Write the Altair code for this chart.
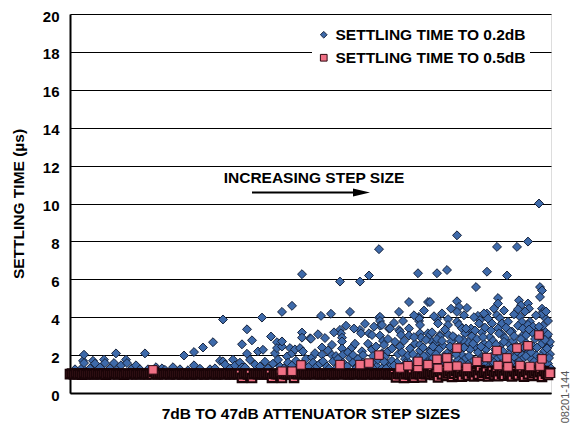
import altair as alt
import pandas as pd

S02 = "SETTLING TIME TO 0.2dB"
S05 = "SETTLING TIME TO 0.5dB"

# 0.5dB settling time, the dense band (one value every 2 steps)
BAND_1 = [1.00, 1.02, 0.98, 1.03, 0.99, 1.01, 0.97, 1.04, 1.00, 0.98,
          1.02, 1.00, 0.99, 1.03, 0.98, 1.01, 1.00, 1.04, 0.97, 1.02,
          1.00, 0.99, 1.03, 1.01, 0.98, 1.02, 1.00, 0.97, 1.03, 0.99,
          1.01, 1.00, 1.04, 0.98, 1.02, 0.99, 1.01, 1.03, 0.98, 1.00,
          1.02, 0.99, 1.12, 1.01, 0.98, 1.03, 1.00, 0.99, 1.02, 1.01,
          0.98, 1.03, 1.00, 0.99, 1.01, 1.02, 0.98, 1.00, 1.03, 0.99]
BAND_2 = [1.01, 0.98, 1.02, 1.00, 0.99, 1.03, 1.01, 0.98, 1.00, 1.02,
          0.99, 1.01, 1.03, 0.98, 1.00, 1.02, 0.99, 1.01, 1.00, 1.03,
          0.98, 1.01, 1.00, 1.02, 0.99, 1.01, 0.80, 1.00, 1.03, 0.98,
          1.01, 0.79, 1.00, 1.02, 0.99, 1.01, 1.00, 0.98, 1.03, 0.99,
          1.01, 0.80, 1.02, 1.00, 0.99, 1.03, 0.79, 1.01, 1.00, 0.98,
          1.02, 1.00, 0.80, 1.01, 0.99, 1.02, 1.00, 1.03, 0.98, 1.01]
BAND_3 = [1.00, 1.02, 0.99, 1.01, 1.03, 0.98, 1.00, 1.02, 0.99, 1.01,
          1.00, 1.04, 0.98, 1.01, 1.00, 1.02, 0.99, 1.03, 1.01, 0.98,
          1.00, 1.02, 0.99, 1.01, 1.00, 1.03, 0.98, 1.02, 1.00, 0.99,
          1.01, 1.03, 0.98, 1.00, 1.02, 0.99, 1.01, 1.00, 1.03, 0.98,
          1.02, 1.00, 0.99, 0.82, 1.01, 0.99, 1.02, 0.80, 1.00, 1.01,
          0.98, 1.03, 0.81, 1.00, 1.02, 0.99, 0.82, 1.01, 1.00, 1.03]
BAND_4 = [1.00, 1.10, 0.95, 1.05, 0.82, 1.12, 0.98, 1.20, 0.90, 1.04,
          1.15, 0.85, 1.02, 1.18, 0.93, 1.08, 0.86, 1.14, 1.00, 0.92,
          1.16, 1.03, 0.88, 1.10, 0.97, 1.21, 0.90, 1.06, 1.13, 0.87,
          1.01, 1.17, 0.94, 1.09, 0.89, 1.15, 1.02, 0.91, 1.19, 0.96,
          1.07, 0.88, 1.14, 1.00, 0.93, 1.18, 1.04, 0.86, 1.12, 0.98,
          1.20, 0.90, 1.05, 1.16, 0.92, 1.10, 0.85, 1.15, 1.02, 0.95,
          1.08]

# 0.5dB settling time, points above the band (step, µs)
PINK_HIGH = [(83, 1.22), (212, 1.15), (222, 1.15), (231, 1.48), (270, 1.50),
             (290, 1.50), (299, 1.58), (309, 2.00), (330, 1.32), (338, 1.44),
             (348, 1.35), (348, 1.67), (358, 1.50), (367, 1.78), (368, 1.30),
             (377, 1.85), (378, 1.38), (387, 2.37), (387, 1.42), (397, 1.35),
             (407, 1.67), (417, 1.87), (427, 2.24), (428, 1.45), (437, 1.85),
             (438, 1.38), (447, 2.37), (450, 1.45), (458, 2.49), (460, 1.40),
             (469, 3.06), (470, 1.42), (472, 1.80), (480, 1.04)]

# 0.2dB settling time (step, µs)
BLUE_A = [(5, 1.25), (12, 1.32), (13, 1.70), (14, 2.02), (14, 1.58), (20, 1.30),
          (23, 1.70), (25, 1.55), (30, 1.35), (34, 1.76), (35, 1.58), (40, 1.30),
          (44, 1.58), (46, 2.09), (48, 1.28), (51, 1.46), (56, 1.76), (57, 1.58),
          (62, 1.30), (66, 1.46), (70, 1.25), (75, 2.09), (78, 1.25), (86, 1.36),
          (92, 1.30), (95, 1.22), (103, 1.36), (110, 1.25), (114, 1.98), (118, 1.20),
          (124, 2.16), (124, 1.46)]
BLUE_B = [(130, 1.28), (133, 2.40), (140, 1.25), (143, 2.68), (145, 1.30), (150, 1.70),
          (153, 3.88), (153, 1.67), (155, 1.50), (160, 1.30), (163, 1.76), (165, 1.45),
          (170, 1.60), (172, 2.57), (172, 1.35), (175, 1.35), (177, 3.36), (177, 2.07),
          (180, 1.75), (182, 2.78), (185, 1.50), (188, 2.19), (190, 1.40), (192, 3.98),
          (193, 2.28), (195, 1.65), (198, 1.30), (201, 2.98), (203, 1.55), (205, 2.10),
          (207, 2.68), (207, 2.37), (208, 1.75), (210, 1.40), (212, 2.45), (212, 4.28),
          (212, 2.72), (214, 1.30), (217, 1.93), (218, 1.60), (220, 2.37), (222, 2.10),
          (222, 4.60), (222, 1.45), (225, 2.30), (226, 1.70), (229, 1.35), (230, 2.37),
          (232, 6.27), (232, 3.19), (232, 2.92), (233, 2.19), (233, 1.55), (236, 1.80),
          (239, 1.40), (240, 2.89), (241, 2.86), (242, 1.88), (243, 1.60), (245, 1.30)]
BLUE_C = [(245, 2.10), (247, 1.41), (250, 1.55), (251, 4.07), (252, 2.40), (252, 2.02),
          (253, 1.67), (257, 1.40), (258, 2.25), (261, 4.18), (262, 2.54), (262, 2.00),
          (263, 1.67), (266, 1.95), (267, 1.35), (268, 1.80), (270, 5.88), (270, 3.33),
          (271, 3.15), (272, 2.92), (272, 2.72), (272, 2.35), (273, 2.02), (273, 1.60),
          (277, 1.41), (278, 2.15), (280, 4.28), (280, 1.84), (282, 2.40), (283, 2.00),
          (283, 1.60), (285, 2.60), (287, 1.40), (288, 1.80), (290, 5.88), (290, 3.33),
          (291, 3.15), (292, 2.20), (293, 2.00), (293, 1.60), (296, 1.45), (298, 2.60),
          (299, 6.20), (299, 3.15), (302, 3.06), (302, 2.30), (303, 1.95), (303, 1.60),
          (307, 1.41), (308, 1.75), (309, 7.59), (309, 3.97), (310, 4.02), (310, 3.80),
          (310, 3.55), (310, 3.03), (312, 3.59), (312, 2.10), (312, 1.30), (313, 2.75),
          (314, 2.54), (315, 1.90), (317, 1.55), (318, 2.20), (319, 3.39), (320, 3.41),
          (320, 1.41), (322, 1.70), (325, 2.70), (327, 1.60), (328, 2.05), (329, 4.28),
          (329, 3.33), (330, 3.24), (330, 2.45), (331, 3.06), (333, 1.41), (335, 1.80),
          (337, 1.70), (338, 2.00), (339, 4.80), (339, 3.41), (339, 3.03), (340, 2.35),
          (340, 1.40), (342, 1.30), (345, 1.65), (345, 2.60), (348, 6.32), (348, 1.90),
          (349, 4.02), (349, 3.80), (349, 3.93), (350, 3.59), (350, 3.15), (350, 2.25),
          (350, 2.54), (351, 2.92), (352, 1.50), (355, 1.75), (355, 1.38), (357, 2.00),
          (358, 4.80), (358, 3.15), (360, 3.06), (360, 2.25), (360, 1.60), (362, 2.70)]
BLUE_D = [(367, 6.32), (377, 6.49), (387, 8.32), (406, 5.59), (417, 6.40), (427, 7.71),
          (437, 6.20), (447, 7.71), (458, 7.99), (469, 10.0), (470, 5.59), (472, 5.41),
          (470, 5.07), (360, 4.80), (387, 4.84), (389, 4.54), (387, 4.28), (397, 4.49),
          (428, 5.01), (428, 4.72), (449, 4.89), (451, 4.63), (448, 4.42), (458, 4.72),
          (459, 4.45), (472, 4.45), (473, 4.28), (474, 4.02), (472, 4.16), (367, 3.90),
          (378, 3.90), (368, 3.67), (370, 3.06), (378, 3.59), (387, 3.76), (389, 3.60),
          (392, 3.41), (397, 3.24), (408, 4.07), (410, 3.85), (409, 3.67), (417, 4.19),
          (418, 3.93), (422, 3.67), (427, 4.11), (430, 3.95), (432, 3.67), (428, 3.41),
          (438, 3.76), (442, 3.24), (450, 4.02), (452, 3.75), (448, 3.55), (453, 3.41),
          (460, 3.76), (458, 3.60), (463, 3.50), (468, 3.30), (475, 3.24), (477, 2.98)]
BLUE_E = [(362, 3.20), (370, 3.00), (378, 3.10), (385, 2.90), (395, 3.15), (402, 3.00),
          (412, 3.20), (420, 2.95), (432, 3.10), (440, 3.25), (452, 3.00), (462, 3.20),
          (470, 2.90), (478, 3.10), (365, 2.60), (373, 2.50), (381, 2.70), (390, 2.55),
          (398, 2.70), (405, 2.45), (414, 2.60), (423, 2.75), (430, 2.50), (438, 2.65),
          (445, 2.55), (455, 2.70), (463, 2.45), (472, 2.60), (479, 2.50), (361, 2.20),
          (369, 2.30), (377, 2.10), (384, 2.25), (392, 2.00), (400, 2.30), (408, 2.15),
          (416, 2.30), (424, 2.05), (433, 2.20), (441, 2.35), (450, 2.10), (457, 2.25),
          (466, 2.00), (474, 2.20), (480, 2.05), (363, 1.85), (371, 1.70), (379, 1.90),
          (388, 1.75), (396, 1.85), (404, 1.70), (412, 1.90), (420, 1.75), (428, 1.85),
          (436, 1.70), (444, 1.90), (452, 1.75), (460, 1.85), (468, 1.70), (476, 1.80),
          (366, 1.50), (374, 1.45), (382, 1.55), (390, 1.40), (398, 1.50), (406, 1.45),
          (414, 1.55), (422, 1.40), (430, 1.50), (438, 1.45), (446, 1.55), (454, 1.40),
          (462, 1.50), (470, 1.45), (478, 1.55), (481, 1.30), (367, 2.85), (375, 3.35),
          (383, 2.35), (393, 2.80), (401, 3.40), (407, 2.85), (415, 3.45), (425, 2.30),
          (435, 2.90), (443, 2.75), (449, 2.40), (456, 3.05), (465, 2.85), (473, 3.55),
          (480, 2.70), (364, 1.30), (376, 1.28), (386, 1.32), (394, 1.26), (402, 1.30),
          (410, 1.28), (418, 1.33), (426, 1.27), (434, 1.30), (442, 1.29), (456, 1.31),
          (466, 1.27), (474, 1.30), (259, 1.28), (271, 1.25), (286, 1.30), (300, 1.27),
          (316, 1.29), (326, 1.26), (336, 1.30), (346, 1.28), (356, 1.25)]
BLUE_F = [(302, 1.35), (306, 2.45), (314, 1.65), (318, 2.85), (322, 2.35), (324, 1.45),
          (332, 2.15), (334, 2.75), (336, 1.55), (343, 2.05), (344, 2.95), (347, 1.45),
          (353, 2.40), (354, 1.95), (356, 2.80), (359, 1.40), (363, 2.45), (366, 2.05),
          (368, 1.60), (372, 2.75), (374, 1.95), (376, 1.65), (380, 2.45), (383, 3.00),
          (386, 2.05), (389, 2.85), (391, 1.60), (394, 2.40), (396, 3.40), (399, 1.95),
          (403, 2.60), (405, 3.30), (409, 1.60), (411, 2.45), (413, 2.95), (415, 1.95),
          (419, 2.55), (421, 3.30), (424, 1.60), (426, 2.55), (429, 3.15), (431, 1.95),
          (434, 2.70), (436, 3.45), (439, 2.05), (441, 1.60), (444, 3.00), (447, 2.20),
          (449, 1.65), (451, 2.85), (454, 2.40), (456, 1.95), (459, 3.35), (461, 2.15),
          (464, 1.65), (467, 2.40), (469, 3.50), (471, 1.95), (475, 2.80), (477, 2.35),
          (479, 1.85), (478, 3.80), (476, 4.30), (466, 4.10), (455, 4.30), (444, 4.15),
          (434, 4.35), (424, 4.45), (414, 4.20), (404, 4.00), (394, 4.10), (381, 4.45),
          (372, 4.20), (364, 4.05), (354, 4.35), (344, 4.10), (333, 3.80), (324, 3.70),
          (304, 3.50), (295, 3.65), (284, 3.40), (276, 3.55), (264, 3.20), (255, 2.90),
          (248, 3.10)]

Y_TICKS = [0, 2, 4, 6, 8, 10, 12, 14, 16, 18, 20]

FONT = "Liberation Sans"

blue_pts = BLUE_A + BLUE_B + BLUE_C + BLUE_D + BLUE_E + BLUE_F
blue_df = pd.DataFrame({
    "step": [p[0] for p in blue_pts],
    "time": [p[1] for p in blue_pts],
    "series": S02,
})
band = BAND_1 + BAND_2 + BAND_3 + BAND_4
band_df = pd.DataFrame({
    "step": [2 * i for i in range(len(band))],
    "time": band,
    "series": S05,
})
high_df = pd.DataFrame({
    "step": [p[0] for p in PINK_HIGH],
    "time": [p[1] for p in PINK_HIGH],
    "series": S05,
})

xs = alt.Scale(domain=[0, 481], nice=False, zero=False)
ys = alt.Scale(domain=[0, 20], nice=False, zero=True)
dom = [S02, S05]

leg = alt.Legend(title=None, orient="none", legendX=242, legendY=9,
                 fillColor="white", padding=4, labelFont=FONT, labelFontSize=15.5,
                 labelFontWeight="bold", labelColor="black", labelLimit=400,
                 symbolSize=45, symbolStrokeWidth=1, rowPadding=6, labelOffset=4)

x_axis = alt.Axis(title="7dB TO 47dB ATTENUATOR STEP SIZES", labels=False, ticks=False,
                  grid=False, domainColor="black", domainWidth=2, titleFont=FONT,
                  titleFontSize=15.5, titleFontWeight="bold", titleColor="black",
                  titleY=20, titleBaseline="middle")
y_axis = alt.Axis(title="SETTLING TIME (µs)", values=Y_TICKS, ticks=False,
                  grid=True, gridColor="black", gridWidth=1, domainColor="black",
                  domainWidth=2, labelOverlap=False,
                  labelFont=FONT, labelFontSize=15, labelFontWeight="bold",
                  labelColor="black", labelPadding=11, labelOffset=2,
                  titleFont=FONT, titleFontSize=15.5, titleFontWeight="bold",
                  titleColor="black", titleX=-52, titleY=189.5, titleAngle=-90,
                  titleAlign="center", titleBaseline="middle")

FILL_BLUE, FILL_PINK = "#3E6AAA", "#F07085"
EDGE_BLUE, EDGE_PINK = "#16233D", "#2E0A12"


def enc():
    return dict(
        x=alt.X("step:Q", scale=xs, axis=x_axis),
        y=alt.Y("time:Q", scale=ys, axis=y_axis),
        fill=alt.Fill("series:N", scale=alt.Scale(domain=dom, range=[FILL_BLUE, FILL_PINK]), legend=leg),
        stroke=alt.Stroke("series:N", scale=alt.Scale(domain=dom, range=[EDGE_BLUE, EDGE_PINK]), legend=leg),
        shape=alt.Shape("series:N", scale=alt.Scale(domain=dom, range=["diamond", "square"]), legend=leg),
    )


def at(xv, yv):
    return dict(x=alt.XDatum(xv, type="quantitative", scale=xs, axis=x_axis),
                y=alt.YDatum(yv, type="quantitative", scale=ys, axis=y_axis))


blue = alt.Chart(blue_df).mark_point(filled=True, opacity=1, size=80, strokeWidth=1).encode(**enc())
band_layer = alt.Chart(band_df).mark_point(
    filled=True, opacity=1, size=72, strokeWidth=2.2, stroke="#1A0508", strokeOpacity=1
).encode(x=alt.X("step:Q", scale=xs, axis=x_axis),
         y=alt.Y("time:Q", scale=ys, axis=y_axis),
         fill=alt.value(FILL_PINK), shape=alt.value("square"))
pink = alt.Chart(high_df).mark_point(filled=True, opacity=1, size=72, strokeWidth=1).encode(**enc())

one = pd.DataFrame({"k": [0]})
label = alt.Chart(one).mark_text(text="INCREASING STEP SIZE", font=FONT, fontSize=15.5,
                                 fontWeight="bold", color="black", align="center",
                                 baseline="middle").encode(**at(244, 11.33))
arrow_line = alt.Chart(one).mark_rule(color="black", strokeWidth=2).encode(
    x2=alt.X2Datum(286), **at(182, 10.58))
arrow_head = alt.Chart(one).mark_point(shape="M-1,-0.47L1,0L-1,0.47Z", size=289, filled=True,
                                       opacity=1, color="black").encode(**at(291.5, 10.58))
code = alt.Chart(one).mark_text(text="08201-144", font=FONT, fontSize=11, color="#555555",
                                angle=270, align="center", baseline="middle").encode(
    x=alt.value(496), y=alt.value(383))

chart = alt.layer(blue, band_layer, pink, label, arrow_line, arrow_head, code).properties(
    width=481, height=379,
    autosize=alt.AutoSizeParams(type="none"),
    padding={"left": 62, "top": 6, "right": 20, "bottom": 33},
).configure_view(stroke="black", strokeWidth=2).configure(background="white")

chart.save("out.html", embed_options={"renderer": "svg", "actions": False})
